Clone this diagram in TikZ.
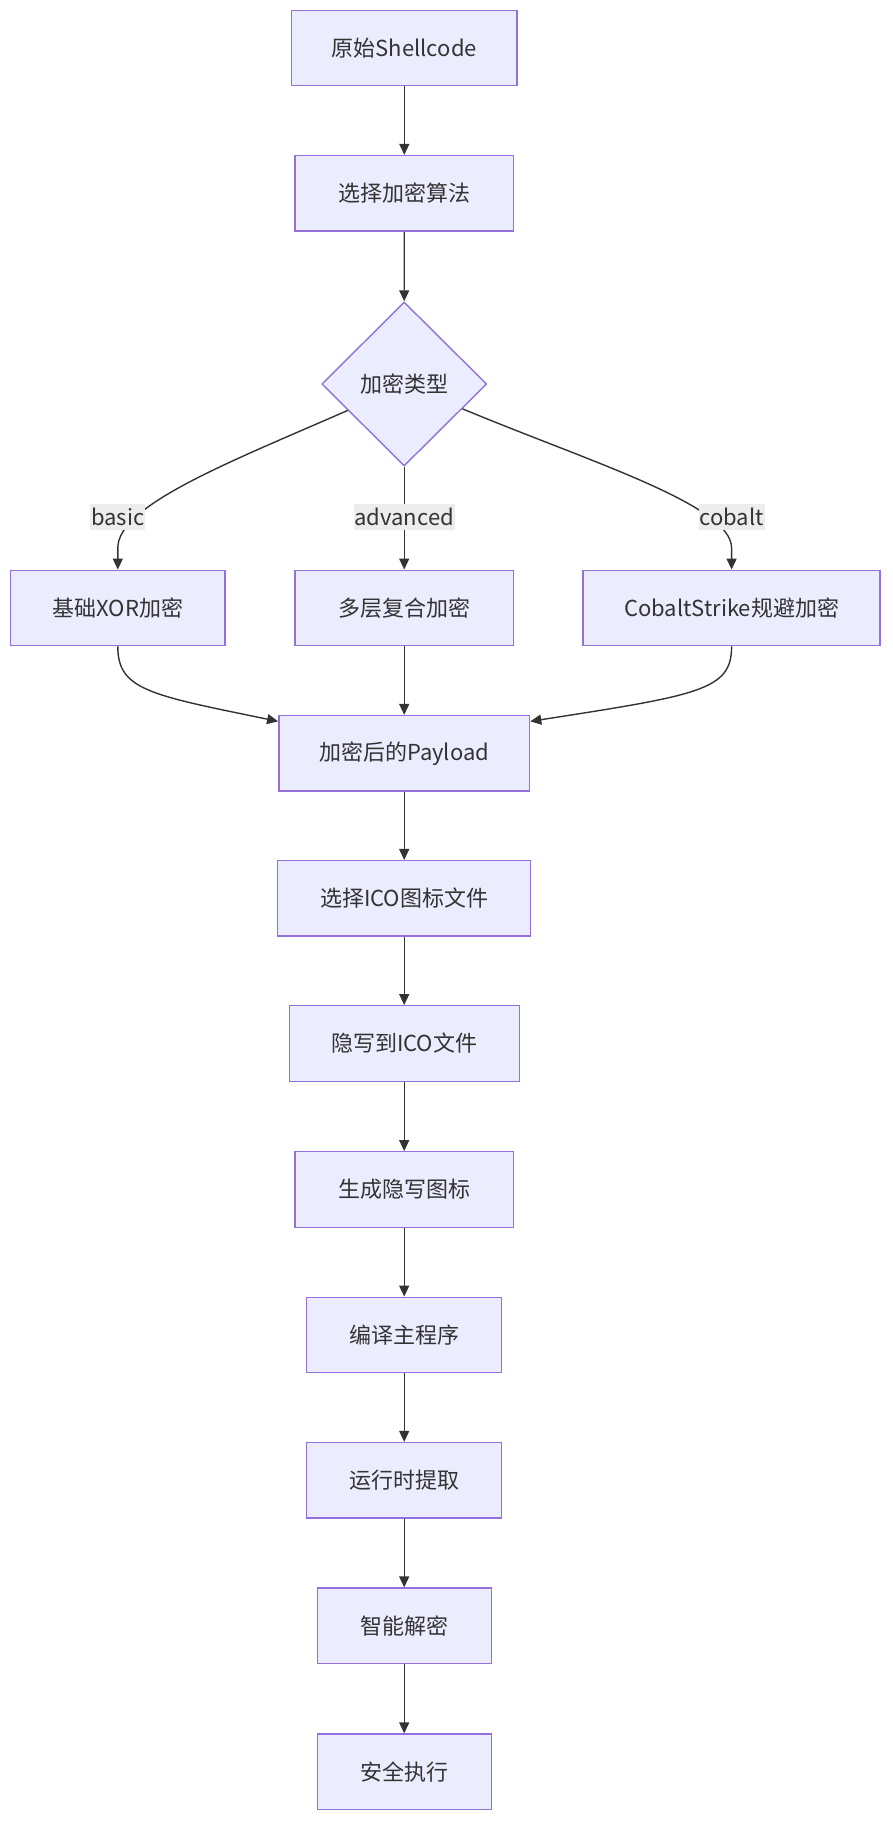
\documentclass[tikz,border=0pt]{standalone}
\usepackage{fontspec}
\setmainfont{Noto Sans CJK SC}
\usetikzlibrary{arrows.meta,shapes.geometric,calc}
\definecolor{nodefill}{HTML}{ECECFF}
\definecolor{nodeborder}{HTML}{9370DB}
\definecolor{edgecol}{HTML}{333333}
\definecolor{labelbg}{HTML}{EDEDED}
\begin{document}
\begin{tikzpicture}[x=1pt,y=-1pt,
  every node/.style={font=\fontsize{22}{26}\selectfont, text=edgecol},
  box/.style={draw=nodeborder, fill=nodefill, line width=1.4pt, minimum height=75.5pt, inner sep=0pt},
  dia/.style={diamond, draw=nodeborder, fill=nodefill, line width=1.4pt, minimum width=165pt, minimum height=164pt, inner sep=0pt},
  elabel/.style={fill=labelbg, inner xsep=1pt, inner ysep=4pt},
  conn/.style={draw=edgecol, line width=1.4pt, -{Triangle[length=11pt,width=10pt]}}]
\useasboundingbox (0,0) rectangle (892,1822);
\fill[white] (0,0) rectangle (892,1822);

\node[box, minimum width=225.5pt] (n1) at (404.3,48) {原始Shellcode};
\node[box, minimum width=218.4pt] (n2) at (404.3,193.3) {选择加密算法};
\node[dia] (d) at (404.2,384) {加密类型};
\node[box, minimum width=214.5pt] (b1) at (117.8,608) {基础XOR加密};
\node[box, minimum width=218.4pt] (b2) at (404.2,608) {多层复合加密};
\node[box, minimum width=297pt] (b3) at (731.6,608) {CobaltStrike规避加密};
\node[box, minimum width=250.8pt] (p) at (404.2,753.3) {加密后的Payload};
\node[box, minimum width=253pt] (ico) at (404.2,898.4) {选择ICO图标文件};
\node[box, minimum width=230pt] (hide) at (404.2,1043.5) {隐写到ICO文件};
\node[box, minimum width=218.4pt] (gen) at (404.2,1189.5) {生成隐写图标};
\node[box, minimum width=195pt] (comp) at (404.2,1335) {编译主程序};
\node[box, minimum width=195pt] (run) at (404.2,1480.3) {运行时提取};
\node[box, minimum width=174pt] (dec) at (404.2,1625.8) {智能解密};
\node[box, minimum width=174pt] (exec) at (404.2,1771.8) {安全执行};

\draw[conn] (n1) -- (n2);
\draw[conn] (n2) -- (d.north);
\coordinate (dl) at ($(d.west)!0.32!(d.south)$);
\coordinate (dr) at ($(d.east)!0.30!(d.south)$);
\draw[conn] (dl) .. controls (230,462) and (117.8,505) .. (117.8,548) -- (b1.north);
\draw[conn] (d.south) -- (b2.north);
\draw[conn] (dr) .. controls (590,462) and (731.6,505) .. (731.6,548) -- (b3.north);

\node[elabel] (lb1) at (117.8,517) {basic};
\node[elabel] (lb2) at (404.2,517) {advanced};
\node[elabel] (lb3) at (731.6,517) {cobalt};

\draw[conn] (b1.south) .. controls (117.8,690) and (150,695) .. ([yshift=-6.5pt]p.north west);
\draw[conn] (b2.south) -- (p.north);
\draw[conn] (b3.south) .. controls (731.6,690) and (700,695) .. ([yshift=-6.5pt]p.north east);

\draw[conn] (p) -- (ico);
\draw[conn] (ico) -- (hide);
\draw[conn] (hide) -- (gen);
\draw[conn] (gen) -- (comp);
\draw[conn] (comp) -- (run);
\draw[conn] (run) -- (dec);
\draw[conn] (dec) -- (exec);
\end{tikzpicture}
\end{document}
